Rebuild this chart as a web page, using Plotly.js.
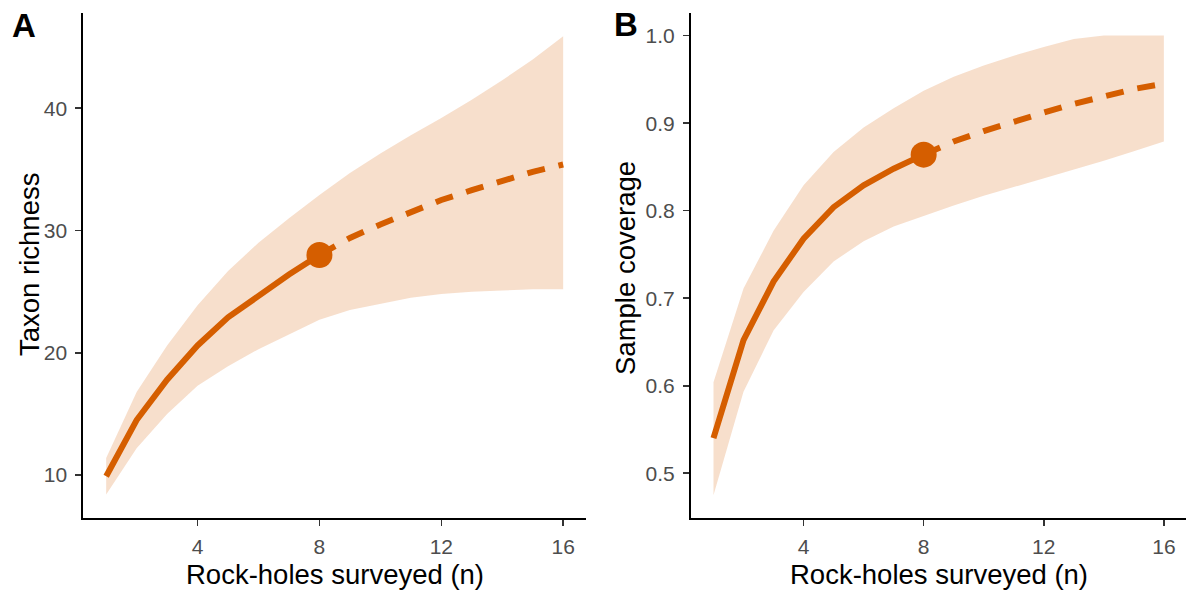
<!DOCTYPE html>
<html>
<head>
<meta charset="utf-8">
<script src="https://cdn.plot.ly/plotly-3.0.1.min.js"></script>
<style>
  html, body { margin: 0; padding: 0; background: #ffffff; }
  #chart { width: 1187px; height: 590px; }
</style>
</head>
<body>
<div id="chart"></div>
<script>
// Sampling effort (number of rock-holes)
const sitesObserved = [1, 2, 3, 4, 5, 6, 7, 8];
const sitesExtrapolated = [8, 9, 10, 11, 12, 13, 14, 15, 16];
const sitesAll = [1, 2, 3, 4, 5, 6, 7, 8, 9, 10, 11, 12, 13, 14, 15, 16];

// Panel A: taxon richness (interpolated, extrapolated, 95% interval)
const richnessObserved = [9.9, 14.5, 17.8, 20.6, 22.9, 24.7, 26.4, 28.0];
const richnessExtrapolated = [28.0, 29.4, 30.5, 31.5, 32.5, 33.3, 34.1, 34.8, 35.4];
const richnessLower = [8.4, 12.2, 15.0, 17.3, 18.9, 20.3, 21.5, 22.7, 23.5, 24.0, 24.5, 24.8, 25.0, 25.1, 25.2, 25.2];
const richnessUpper = [11.4, 16.8, 20.6, 23.9, 26.7, 29.0, 31.0, 32.9, 34.7, 36.3, 37.8, 39.2, 40.7, 42.3, 44.0, 45.9];

// Panel B: sample coverage
const coverageObserved = [0.540, 0.652, 0.719, 0.768, 0.804, 0.829, 0.848, 0.864];
const coverageExtrapolated = [0.864, 0.879, 0.891, 0.902, 0.912, 0.922, 0.931, 0.939, 0.945];
const coverageLower = [0.475, 0.593, 0.663, 0.707, 0.742, 0.765, 0.782, 0.794, 0.806, 0.817, 0.827, 0.837, 0.847, 0.857, 0.868, 0.879];
const coverageUpper = [0.604, 0.711, 0.777, 0.829, 0.867, 0.895, 0.917, 0.937, 0.953, 0.966, 0.977, 0.987, 0.996, 1.0, 1.0, 1.0];

// Axis labels
const xTickVals = [4, 8, 12, 16];
const yTickValsA = [10, 20, 30, 40];
const yTickValsB = [0.5, 0.6, 0.7, 0.8, 0.9, 1.0];
const yTickTextB = ['0.5', '0.6', '0.7', '0.8', '0.9', '1.0'];
const xTitle = 'Rock-holes surveyed (n)';
const yTitleA = 'Taxon richness';
const yTitleB = 'Sample coverage';

const LINE = '#D55E00';
const BAND = 'rgba(213, 94, 0, 0.2)';
const FONT = 'Liberation Sans, Arial, sans-serif';

function panelTraces(xa, ya, obs, ext, lo, hi) {
  return [
    { x: sitesAll, y: lo, xaxis: xa, yaxis: ya, type: 'scatter', mode: 'lines',
      line: { width: 0, color: BAND }, hoverinfo: 'skip', showlegend: false },
    { x: sitesAll, y: hi, xaxis: xa, yaxis: ya, type: 'scatter', mode: 'lines',
      fill: 'tonexty', fillcolor: BAND, line: { width: 0, color: BAND },
      hoverinfo: 'skip', showlegend: false },
    { x: sitesExtrapolated, y: ext, xaxis: xa, yaxis: ya, type: 'scatter', mode: 'lines',
      line: { color: LINE, width: 6, dash: '18px,14px' }, showlegend: false },
    { x: sitesObserved, y: obs, xaxis: xa, yaxis: ya, type: 'scatter', mode: 'lines',
      line: { color: LINE, width: 6 }, showlegend: false },
    { x: [sitesObserved[sitesObserved.length - 1]], y: [obs[obs.length - 1]],
      xaxis: xa, yaxis: ya, type: 'scatter', mode: 'markers',
      marker: { color: LINE, size: 26 }, showlegend: false }
  ];
}

const data = [].concat(
  panelTraces('x', 'y', richnessObserved, richnessExtrapolated, richnessLower, richnessUpper),
  panelTraces('x2', 'y2', coverageObserved, coverageExtrapolated, coverageLower, coverageUpper)
);

const axisCommon = {
  showgrid: false, zeroline: false, showline: true, linecolor: '#000000', linewidth: 2,
  ticks: 'outside', ticklen: 6, tickwidth: 1.6, tickcolor: '#333333',
  tickfont: { family: FONT, size: 21, color: '#4D4D4D' }, fixedrange: true
};

const yDomain = [0.1225, 0.9785];

const layout = {
  width: 1187, height: 590,
  margin: { l: 0, r: 0, t: 0, b: 0 },
  paper_bgcolor: '#ffffff', plot_bgcolor: '#ffffff',
  showlegend: false,
  font: { family: FONT },
  xaxis: Object.assign({}, axisCommon, {
    domain: [0.0702, 0.4937], range: [0.25, 16.75], tickvals: xTickVals, anchor: 'y',
    ticklabelstandoff: 3
  }),
  yaxis: Object.assign({}, axisCommon, {
    domain: yDomain, range: [6.51, 47.82], tickvals: yTickValsA, anchor: 'x',
    ticklabelstandoff: 4
  }),
  xaxis2: Object.assign({}, axisCommon, {
    domain: [0.5821, 0.9995], range: [0.25, 16.75], tickvals: xTickVals, anchor: 'y2',
    ticklabelstandoff: 3
  }),
  yaxis2: Object.assign({}, axisCommon, {
    domain: yDomain, range: [0.4492, 1.0262], tickvals: yTickValsB, ticktext: yTickTextB, anchor: 'x2',
    ticklabelstandoff: 4
  }),
  annotations: [
    { text: 'A', xref: 'paper', yref: 'paper', x: 23.5 / 1187, y: 1 - 25 / 590,
      showarrow: false, xanchor: 'center', yanchor: 'middle',
      font: { family: FONT, size: 33, color: '#000000', weight: 'bold' } },
    { text: 'B', xref: 'paper', yref: 'paper', x: 625.5 / 1187, y: 1 - 24.5 / 590,
      showarrow: false, xanchor: 'center', yanchor: 'middle',
      font: { family: FONT, size: 33, color: '#000000', weight: 'bold' } },
    { text: xTitle, xref: 'paper', yref: 'paper', x: 334.5 / 1187, y: 1 - 574 / 590,
      showarrow: false, xanchor: 'center', yanchor: 'middle',
      font: { family: FONT, size: 27.5, color: '#000000' } },
    { text: xTitle, xref: 'paper', yref: 'paper', x: 939 / 1187, y: 1 - 574 / 590,
      showarrow: false, xanchor: 'center', yanchor: 'middle',
      font: { family: FONT, size: 27.5, color: '#000000' } },
    { text: yTitleA, xref: 'paper', yref: 'paper', x: 29 / 1187, y: 1 - 265 / 590,
      showarrow: false, xanchor: 'center', yanchor: 'middle', textangle: -90,
      font: { family: FONT, size: 27.5, color: '#000000' } },
    { text: yTitleB, xref: 'paper', yref: 'paper', x: 626 / 1187, y: 1 - 268 / 590,
      showarrow: false, xanchor: 'center', yanchor: 'middle', textangle: -90,
      font: { family: FONT, size: 27.5, color: '#000000' } }
  ]
};

Plotly.newPlot('chart', data, layout, { staticPlot: true, displayModeBar: false });
</script>
</body>
</html>
